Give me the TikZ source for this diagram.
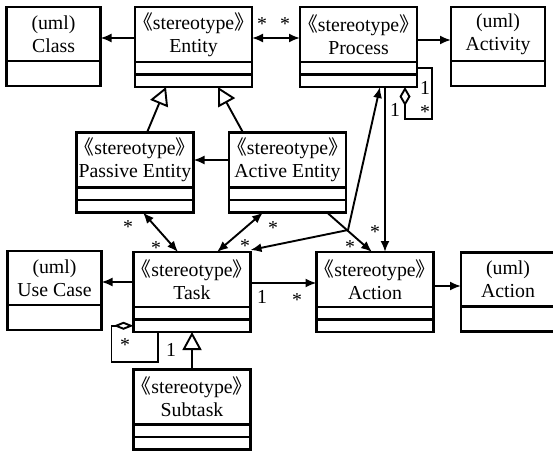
\documentclass[tikz,border=0pt]{standalone}
\usepackage{fontspec}
\setmainfont{Liberation Serif}
\newfontfamily\cjk{Noto Sans CJK SC}
\usetikzlibrary{arrows.meta,positioning}
\newcommand{\stereotag}{\makebox[0.55em][r]{\cjk 《}stereotype\makebox[0.55em][l]{\cjk 》}}

\begin{document}
\begin{tikzpicture}[x=1pt, y=-1pt, >={Latex[length=11pt,width=9pt]},
  every node/.style={align=center, font=\fontsize{19.8}{23}\selectfont},
  namebox/.style={draw, line width=2.1pt, outer sep=0pt, inner sep=0pt, minimum width=117, minimum height=55},
  umlbox/.style={namebox, minimum width=94, minimum height=54},
  slot/.style={draw, line width=2.1pt, outer sep=0pt, inner sep=0pt, minimum width=117, minimum height=12.5},
  umlslot/.style={slot, minimum width=94, minimum height=25},
  link/.style={->, line width=1.9pt},
  gen/.style={-{Triangle[open,length=18pt,width=19pt]}, line width=1.9pt},
  mult/.style={inner sep=0pt}]
\useasboundingbox (0,0) rectangle (553,450);
% top row
\node[umlbox] (class) at (53.5,34) {(uml)\\Class};
\node[umlslot, below=0pt of class] (class-b) {};
\node[namebox] (entity) at (193.5,34.5) {\stereotag\\Entity};
\node[slot, below=0pt of entity] (entity-b) {};
\node[slot, below=0pt of entity-b] (entity-c) {};
\node[namebox] (process) at (358.5,34.5) {\stereotag\\Process};
\node[slot, below=0pt of process] (process-b) {};
\node[slot, below=0pt of process-b] (process-c) {};
\node[umlbox] (activity) at (498,34) {(uml)\\Activity};
\node[umlslot, below=0pt of activity] (activity-b) {};
% entities
\node[namebox] (passive) at (135,160) {\stereotag\\Passive Entity};
\node[slot, below=0pt of passive] (passive-b) {};
\node[slot, below=0pt of passive-b] (passive-c) {};
\node[namebox] (active) at (287.5,160) {\stereotag\\Active Entity};
\node[slot, below=0pt of active] (active-b) {};
\node[slot, below=0pt of active-b] (active-c) {};
% task row
\node[umlbox] (usecase) at (54.5,278) {(uml)\\Use Case};
\node[umlslot, below=0pt of usecase] (usecase-b) {};
\node[namebox] (task) at (192,279.5) {\stereotag\\Task};
\node[slot, below=0pt of task] (task-b) {};
\node[slot, below=0pt of task-b] (task-c) {};
\node[namebox] (action) at (375,279.5) {\stereotag\\Action};
\node[slot, below=0pt of action] (action-b) {};
\node[slot, below=0pt of action-b] (action-c) {};
\node[umlbox] (umlaction) at (508,279.5) {(uml)\\Action};
\node[umlslot, below=0pt of umlaction] (umlaction-b) {};
\node[namebox] (subtask) at (192,397) {\stereotag\\Subtask};
\node[slot, below=0pt of subtask] (subtask-b) {};
\node[slot, below=0pt of subtask-b] (subtask-c) {};
% connectors
\draw[link] ([yshift=-3.5]entity.west) -- ([yshift=-3.5]entity.west -| class.east);
\draw[link,<->] ([yshift=-3.5]entity.east) -- ([yshift=-3.5]process.west);
\draw[link] ([yshift=-5.5]process.east) -- ([yshift=-5.5]process.east -| activity.west);
\draw[line width=1.9pt, -{Diamond[open,length=19pt,width=11pt]}] (process-b.east) -- ++(15,0) -- ++(0,51) -| ([xshift=46.5]process-c.south);
\draw[gen] ([xshift=12]passive.north) -- ([xshift=-27.5]entity-c.south);
\draw[gen] ([xshift=-44.5]active.north) -- ([xshift=24.5]entity-c.south);
\draw[link] (active.west) -- (passive.east);
\draw[link,<->] ([xshift=8]passive-c.south) -- ([xshift=-14]task.north);
\draw[link,<->] ([xshift=-24.5]active-c.south) -- ([xshift=25]task.north);
\draw[link] ([xshift=39.5]active-c.south) -- ([xshift=-3]action.north);
\coordinate (jn) at (348,230);
\draw[link,<->] ([xshift=21.5]process-c.south) -- (jn) -- ([yshift=2]task.north east);
\draw[link] ([xshift=26.5]process-c.south) -- ([xshift=26.5]process-c.south |- action.north);
\draw[link] ([yshift=-3.5]task.east) -- ([yshift=-3.5]task.east -| action.west);
\draw[link] ([yshift=-6.5]action.east) -- ([yshift=-6.5]action.east -| umlaction.west);
\draw[link] ([yshift=-2.5]task.west) -- ([yshift=-2.5]task.west -| usecase.east);
\draw[line width=1.9pt, {Diamond[open,length=20pt,width=8pt]}-] (task-c.west) -- ++(-22,0) -- ++(0,36) -| ([xshift=-34]task-c.south);
\draw[gen] (subtask.north) -- (subtask.north |- task-c.south);
% multiplicities
\node[mult] (m1) at (262,24) {*};
\node[mult] (m2) at (285,24) {*};
\node[mult] (m3) at (425,88) {1};
\node[mult] (m4) at (425,112) {*};
\node[mult] (m5) at (395,110) {1};
\node[mult] (m6) at (128,227) {*};
\node[mult] (m7) at (156,248) {*};
\node[mult] (m8) at (273,228) {*};
\node[mult] (m9) at (245,246) {*};
\node[mult] (m10) at (350,247) {*};
\node[mult] (m11) at (375,232) {*};
\node[mult] (m12) at (262,297) {1};
\node[mult] (m13) at (297,300) {*};
\node[mult] (m14) at (125,345) {*};
\node[mult] (m15) at (171,350) {1};
\end{tikzpicture}
\end{document}
